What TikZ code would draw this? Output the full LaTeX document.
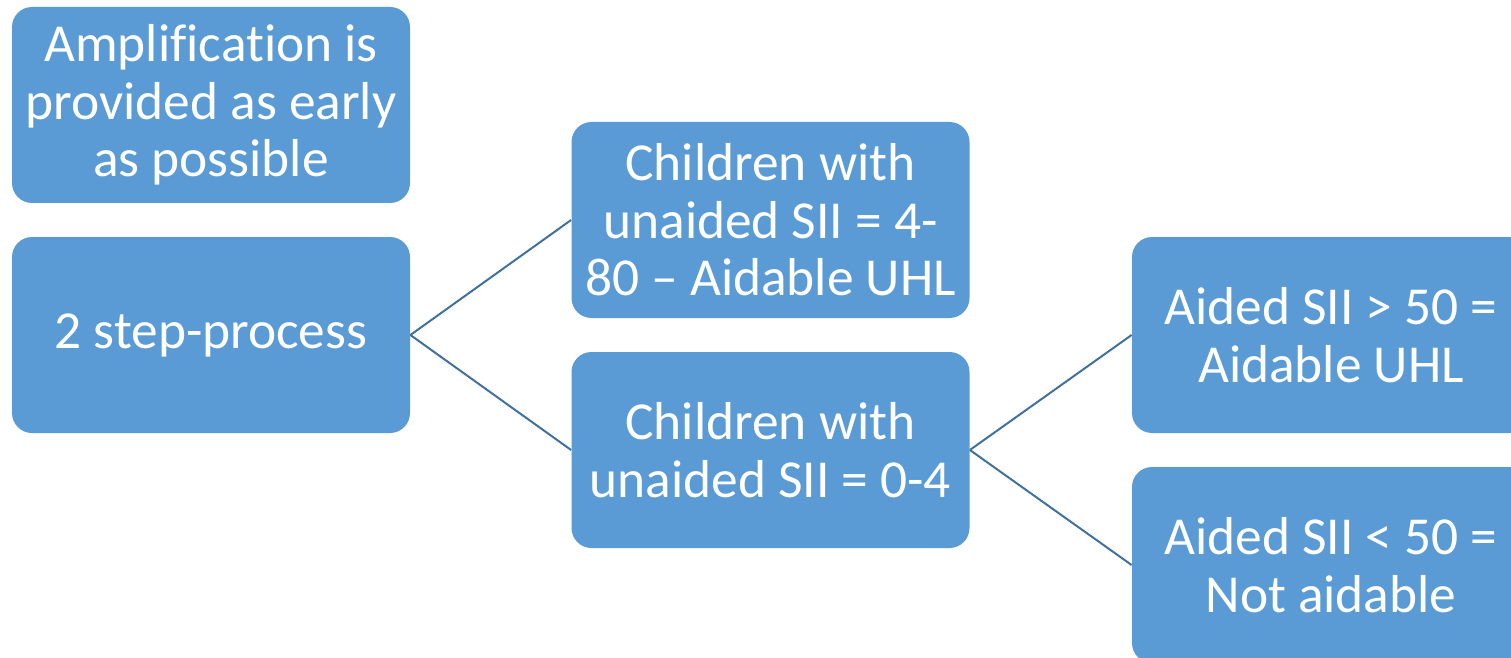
\documentclass[tikz,border=0pt]{standalone}
\usepackage{fontspec}
\setmainfont{Carlito}[Ligatures=NoCommon]
\definecolor{boxblue}{HTML}{5B9BD5}
\definecolor{lineblue}{HTML}{41719C}

\begin{document}
\begin{tikzpicture}[x=0.5pt,y=-0.5pt]
        \tikzstyle{every node}+=[inner sep=0pt]
        \tikzstyle{box}=[fill=boxblue, text=white, rounded corners=10pt, minimum width=199pt, minimum height=98pt, align=center, font=\fontsize{26.7}{28.8}\selectfont]
        \tikzstyle{link}=[lineblue, line width=1pt]
        \clip (0,0) rectangle (1511,658);
        \fill [white] (0,0) rectangle (1511,658);
        \node [box] (amp) at (211,105) {Amplification is\\provided as early\\as possible};
        \node [box] (steps) at (211,335) {2 step-process};
        \node [box] (unaidedhigh) at (770.5,220) {Children with\\unaided SII = 4-\\80 -- Aidable UHL};
        \node [box] (unaidedlow) at (770.5,450) {Children with\\unaided SII = 0-4};
        \node [box] (aidedhigh) at (1331,335) {Aided SII > 50 =\\Aidable UHL};
        \node [box] (aidedlow) at (1331,565) {Aided SII < 50 =\\Not aidable};
        \draw [link] (steps.east) -- (unaidedhigh.west);
        \draw [link] (steps.east) -- (unaidedlow.west);
        \draw [link] (unaidedlow.east) -- (aidedhigh.west);
        \draw [link] (unaidedlow.east) -- (aidedlow.west);
\end{tikzpicture}
\end{document}
